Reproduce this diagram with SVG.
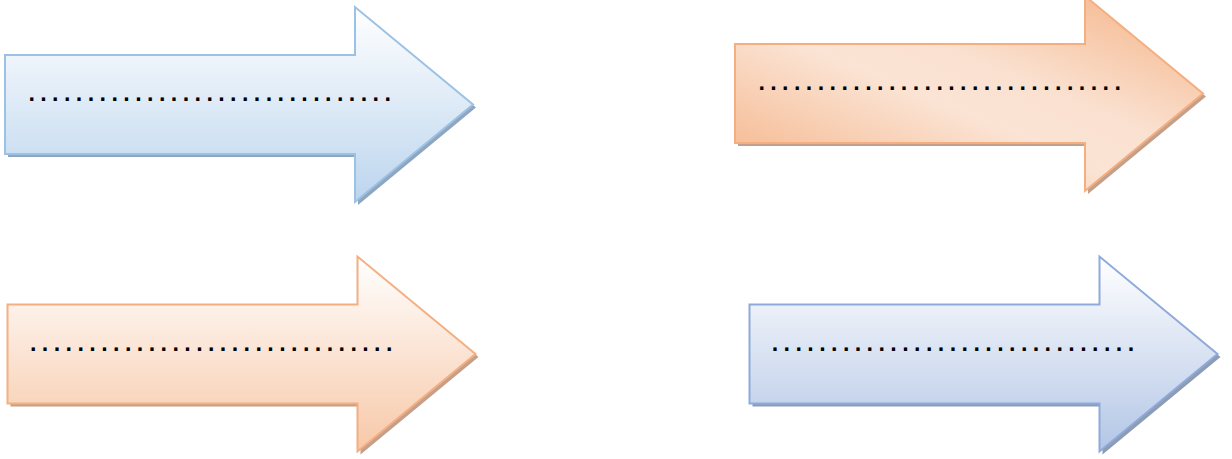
<svg xmlns="http://www.w3.org/2000/svg" width="1232" height="459" viewBox="0 0 1232 459">
<defs>
<path id="arrowShape" d="M0,-49.5 H350 V-97.5 L468,0 L350,97.5 V49.5 H0 Z"/>
<linearGradient id="gBlue1" x1="0" y1="0" x2="0" y2="1">
<stop offset="0" stop-color="#ffffff"/>
<stop offset="1" stop-color="#bcd5ee"/>
</linearGradient>
<linearGradient id="gOrange2" x1="0" y1="1" x2="1" y2="0">
<stop offset="0" stop-color="#f4b183"/>
<stop offset="0.45" stop-color="#fbe4d5"/>
<stop offset="0.6" stop-color="#fae0cf"/>
<stop offset="1" stop-color="#f4b183"/>
</linearGradient>
<linearGradient id="gOrange3" x1="0" y1="0" x2="0" y2="1">
<stop offset="0" stop-color="#ffffff"/>
<stop offset="1" stop-color="#f7c8a8"/>
</linearGradient>
<linearGradient id="gBlue4" x1="0" y1="0" x2="0" y2="1">
<stop offset="0" stop-color="#ffffff"/>
<stop offset="1" stop-color="#b3c6e6"/>
</linearGradient>
</defs>
<style>
.dots { font-family: "Liberation Sans", Arial, sans-serif; font-size: 34px; letter-spacing: 2.42px; fill: #000000; }
.bl { stroke: #9bc1e4; stroke-width: 2; }
.or { stroke: #f4ae80; stroke-width: 2; }
.bl2 { stroke: #8eaadb; stroke-width: 2; }
</style>
<rect width="1232" height="459" fill="#ffffff"/>
<g id="arrow1" transform="translate(5,104.5)">
<use href="#arrowShape" transform="translate(3,3)" fill="#8fa6c1"/>
<use href="#arrowShape" fill="url(#gBlue1)" class="bl"/>
<text class="dots" x="21.9" y="-3.1">...............................</text>
</g>
<g id="arrow2" transform="translate(735,93.5)">
<use href="#arrowShape" transform="translate(3,3)" fill="#c4a08a"/>
<use href="#arrowShape" fill="url(#gOrange2)" class="or"/>
<text class="dots" x="21.9" y="-3.5">...............................</text>
</g>
<g id="arrow3" transform="translate(7.5,354)">
<use href="#arrowShape" transform="translate(3,3)" fill="#c4a08a"/>
<use href="#arrowShape" fill="url(#gOrange3)" class="or"/>
<text class="dots" x="21" y="-3.3">...............................</text>
</g>
<g id="arrow4" transform="translate(749.5,354)">
<use href="#arrowShape" transform="translate(3,3)" fill="#8d9bb3"/>
<use href="#arrowShape" fill="url(#gBlue4)" class="bl2"/>
<text class="dots" x="20.7" y="-3.3">...............................</text>
</g>
<g id="connectors"></g>
</svg>
